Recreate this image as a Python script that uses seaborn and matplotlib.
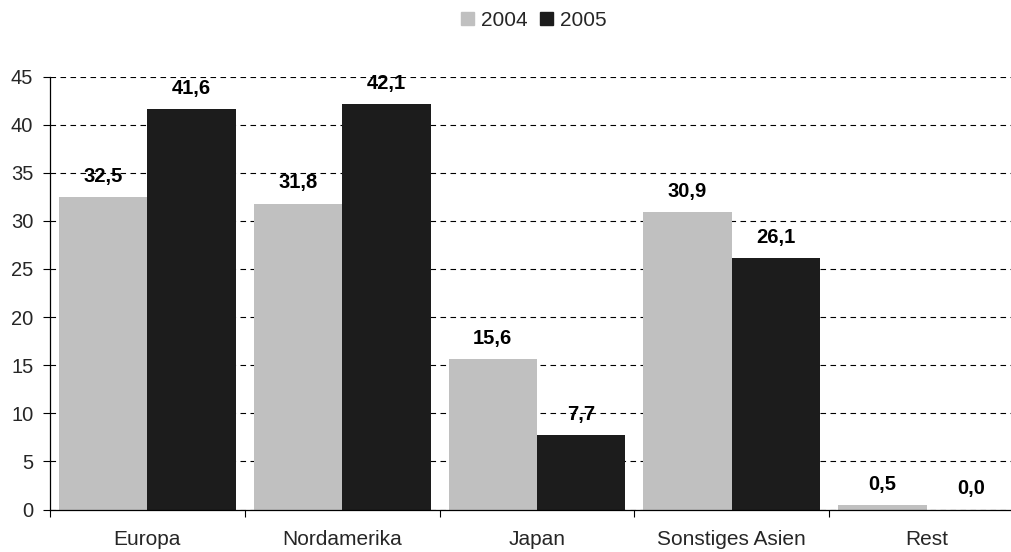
import matplotlib
matplotlib.use("Agg")
import matplotlib.pyplot as plt
import seaborn as sns
import pandas as pd
import numpy as np

regions = ["Europa", "Nordamerika", "Japan", "Sonstiges Asien", "Rest"]
years = ["2004", "2005"]
values_2004 = [32.5, 31.8, 15.6, 30.9, 0.5]
values_2005 = [41.6, 42.1, 7.7, 26.1, 0.0]
y_ticks = [0, 5, 10, 15, 20, 25, 30, 35, 40, 45]

df = pd.DataFrame({
    "Region": regions * 2,
    "Jahr": [years[0]] * len(regions) + [years[1]] * len(regions),
    "Wert": values_2004 + values_2005,
})

sns.set_theme(style="white")
plt.rcParams["font.family"] = ["Liberation Sans", "DejaVu Sans"]
plt.rcParams["font.size"] = 15

fig = plt.figure(figsize=(10.12, 5.52), dpi=100)
# the last category runs slightly past the right edge of the figure
ax = fig.add_axes([50 / 1012, 42.5 / 552, 974 / 1012, 433 / 552])

palette = {"2004": "#C0C0C0", "2005": "#1C1C1C"}
sns.barplot(data=df, x="Region", y="Wert", hue="Jahr", order=regions,
            hue_order=years, palette=palette, width=0.908, gap=0,
            saturation=1, edgecolor="none", linewidth=0, ax=ax, legend=False)

for container in ax.containers:
    labels = [f"{b.get_height():.1f}".replace(".", ",") for b in container]
    ax.bar_label(container, labels=labels, padding=8, fontsize=14.5,
                 fontweight="bold", color="black")

ax.set_ylim(0, 45)
ax.set_xlim(-0.5, 4.5)
ax.set_yticks(y_ticks)
ax.set_yticklabels([str(t) for t in y_ticks])
ax.yaxis.grid(True, color="black", linestyle=(0, (5, 4)), linewidth=0.8)
ax.set_axisbelow(True)

# category names in the middle, tick marks at the category boundaries
ax.set_xticks(np.arange(-0.5, len(regions) + 0.5, 1))
ax.set_xticklabels([])
ax.set_xticks(np.arange(len(regions)), minor=True)
ax.set_xticklabels(regions, minor=True)
ax.tick_params(axis="x", which="major", length=5, width=0.8, color="black",
               direction="out", bottom=True)
ax.tick_params(axis="x", which="minor", length=0, pad=15, labelsize=15)
ax.tick_params(axis="y", length=5, width=0.8, color="black", direction="out",
               left=True, pad=7, labelsize=14.5)

for side in ["top", "right"]:
    ax.spines[side].set_visible(False)
for side in ["left", "bottom"]:
    ax.spines[side].set_color("black")
    ax.spines[side].set_linewidth(0.9)

ax.set_xlabel("")
ax.set_ylabel("")

handles = [plt.Rectangle((0, 0), 1, 1, color=palette[y]) for y in years]
fig.legend(handles, years, loc="center", bbox_to_anchor=(534 / 1012, 1 - 20 / 552),
           ncol=2, frameon=False, handlelength=0.6, handleheight=0.6,
           handletextpad=0.35, columnspacing=0.6, fontsize=15,
           borderpad=0, borderaxespad=0)

fig.savefig("out.png", dpi=100)
